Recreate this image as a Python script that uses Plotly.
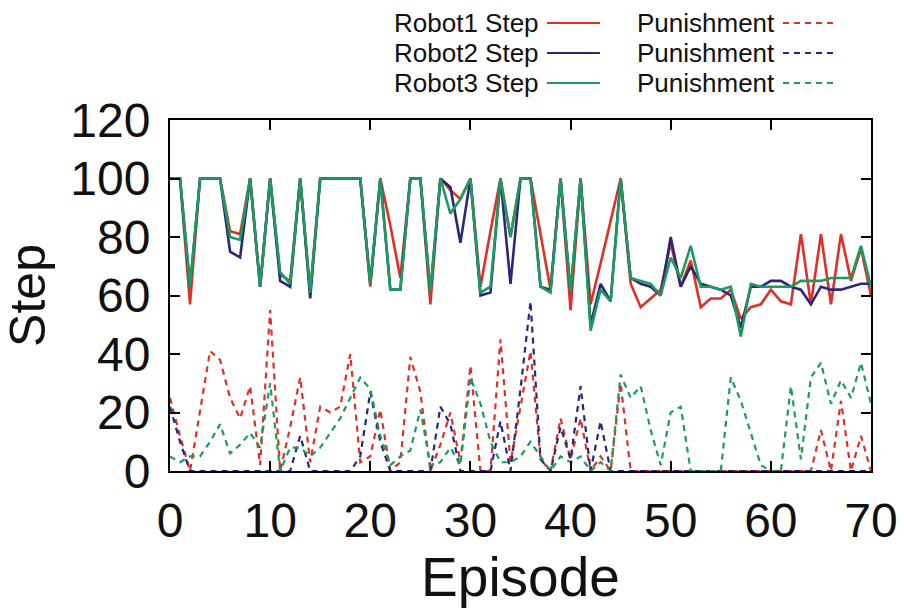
import plotly.graph_objects as go

episodes = list(range(71))

robot1_step = [100, 100, 57, 100, 100, 100, 82, 81, 100, 63, 100, 67, 65, 100, 61, 100,
               100, 100, 100, 100, 63, 100, 84, 66, 100, 100, 57, 100, 96, 93, 100,
               63, 82, 100, 80, 100, 100, 81, 62, 100, 55, 100, 57, 71, 86, 100,
               64, 56, 59, 62, 78, 63, 72, 56, 59, 59, 62, 52, 56, 57, 62,
               58, 57, 81, 57, 81, 57, 81, 65, 76, 60]
robot2_step = [100, 100, 63, 100, 100, 100, 75, 73, 100, 63, 100, 65, 63, 100, 59, 100,
               100, 100, 100, 100, 64, 100, 62, 62, 100, 100, 61, 100, 97, 78, 100,
               60, 61, 100, 64, 100, 100, 63, 62, 100, 61, 100, 50, 64, 58, 100,
               66, 64, 63, 60, 80, 63, 70, 64, 63, 62, 60, 49, 63, 63, 65,
               65, 63, 62, 57, 63, 62, 62, 63, 64, 64]
robot3_step = [100, 100, 63, 100, 100, 100, 80, 79, 100, 63, 100, 68, 64, 100, 61, 100,
               100, 100, 100, 100, 64, 100, 62, 62, 100, 100, 61, 100, 88, 93, 100,
               61, 63, 100, 80, 100, 100, 63, 61, 100, 61, 100, 48, 62, 58, 100,
               66, 65, 64, 60, 73, 66, 77, 63, 63, 62, 63, 46, 64, 63, 63,
               63, 63, 65, 65, 65, 66, 66, 66, 77, 63]

robot1_pun = [25, 12, 0, 20, 41, 38, 25, 18, 29, 2, 55, 0, 15, 32, 3, 22,
              20, 22, 40, 3, 5, 21, 0, 3, 39, 27, 0, 9, 20, 3, 36,
              0, 0, 45, 3, 22, 41, 4, 0, 18, 4, 18, 0, 5, 0, 30,
              0, 0, 0, 0, 0, 0, 0, 0, 0, 0, 0, 0, 0, 0, 0,
              0, 0, 0, 0, 14, 0, 24, 0, 12, 0]
robot2_pun = [22, 10, 0, 0, 0, 0, 0, 0, 0, 0, 0, 0, 0, 12, 0, 0,
              0, 0, 0, 5, 27, 10, 0, 0, 0, 0, 0, 22, 16, 0, 0,
              0, 0, 17, 0, 28, 58, 4, 0, 15, 4, 29, 0, 17, 0, 0,
              0, 0, 0, 0, 0, 0, 0, 0, 0, 0, 0, 0, 0, 0, 0,
              0, 0, 0, 0, 0, 0, 0, 0, 0, 0]
robot3_pun = [5, 3, 5, 5, 10, 16, 6, 9, 13, 8, 30, 0, 8, 8, 5, 8,
              13, 18, 25, 32, 28, 12, 2, 5, 7, 21, 2, 3, 8, 2, 32,
              23, 10, 3, 3, 5, 10, 5, 0, 5, 3, 5, 0, 3, 0, 33,
              25, 29, 14, 2, 20, 22, 0, 0, 0, 0, 32, 24, 13, 2, 0,
              0, 29, 4, 32, 37, 23, 31, 25, 37, 23]

names = ["Robot1", "Robot2", "Robot3"]
colors = ["#de3027", "#28287a", "#1d9a5e"]
steps = [robot1_step, robot2_step, robot3_step]
puns = [robot1_pun, robot2_pun, robot3_pun]

DASH = "6px,5px"
FONT = "Liberation Sans, Arial, Helvetica, sans-serif"

fig = go.Figure()
for name, col, p in zip(names, colors, puns):
    fig.add_trace(go.Scatter(x=episodes, y=p, mode="lines", name=name + " Punishment",
                             line=dict(color=col, width=2.2, dash=DASH), showlegend=False))
for name, col, s in zip(names, colors, steps):
    fig.add_trace(go.Scatter(x=episodes, y=s, mode="lines", name=name + " Step",
                             line=dict(color=col, width=2.6), showlegend=False))

# manual gnuplot-style legend (text then sample)
L, R, T, B = 170, 871, 120, 471
def px(x):
    return (x - L) / (R - L)
def py(y):
    return (B - y) / (B - T)

rows = [23, 53, 83]
for name, col, yy in zip(names, colors, rows):
    fig.add_annotation(x=px(540), y=py(yy), xref="paper", yref="paper", text=name + " Step",
                       showarrow=False, xanchor="right", yanchor="middle", borderpad=0,
                       font=dict(family=FONT, size=26, color="#111111"))
    fig.add_shape(type="line", xref="paper", yref="paper", x0=px(547), x1=px(600),
                  y0=py(yy), y1=py(yy), line=dict(color=col, width=2))
    fig.add_annotation(x=px(776), y=py(yy), xref="paper", yref="paper", text="Punishment",
                       showarrow=False, xanchor="right", yanchor="middle", borderpad=0,
                       font=dict(family=FONT, size=26, color="#111111"))
    fig.add_shape(type="line", xref="paper", yref="paper", x0=px(783), x1=px(835),
                  y0=py(yy), y1=py(yy), line=dict(color=col, width=2, dash=DASH))

axis_common = dict(showline=True, linewidth=2, linecolor="black", mirror="ticks",
                   ticks="inside", ticklen=10, tickwidth=2, tickcolor="black",
                   showgrid=False, zeroline=False,
                   tickfont=dict(family=FONT, size=48, color="#111111"))

fig.update_xaxes(range=[0, 70], dtick=10, tick0=0, ticklabelstandoff=6,
                 title=dict(text="Episode", font=dict(family=FONT, size=55, color="#111111"), standoff=20),
                 **axis_common)
fig.update_yaxes(range=[0, 120], dtick=20, tick0=0, ticklabelstandoff=8,
                 title=dict(text="Step", font=dict(family=FONT, size=50, color="#111111"), standoff=9),
                 **axis_common)

fig.update_layout(width=904, height=608, plot_bgcolor="white", paper_bgcolor="white",
                  margin=dict(l=L, r=904 - R, t=T, b=608 - B, autoexpand=False),
                  showlegend=False)

fig.write_html("out.html", config={"displayModeBar": False},
               post_script="document.body.style.margin='0';document.body.style.overflow='hidden';")
